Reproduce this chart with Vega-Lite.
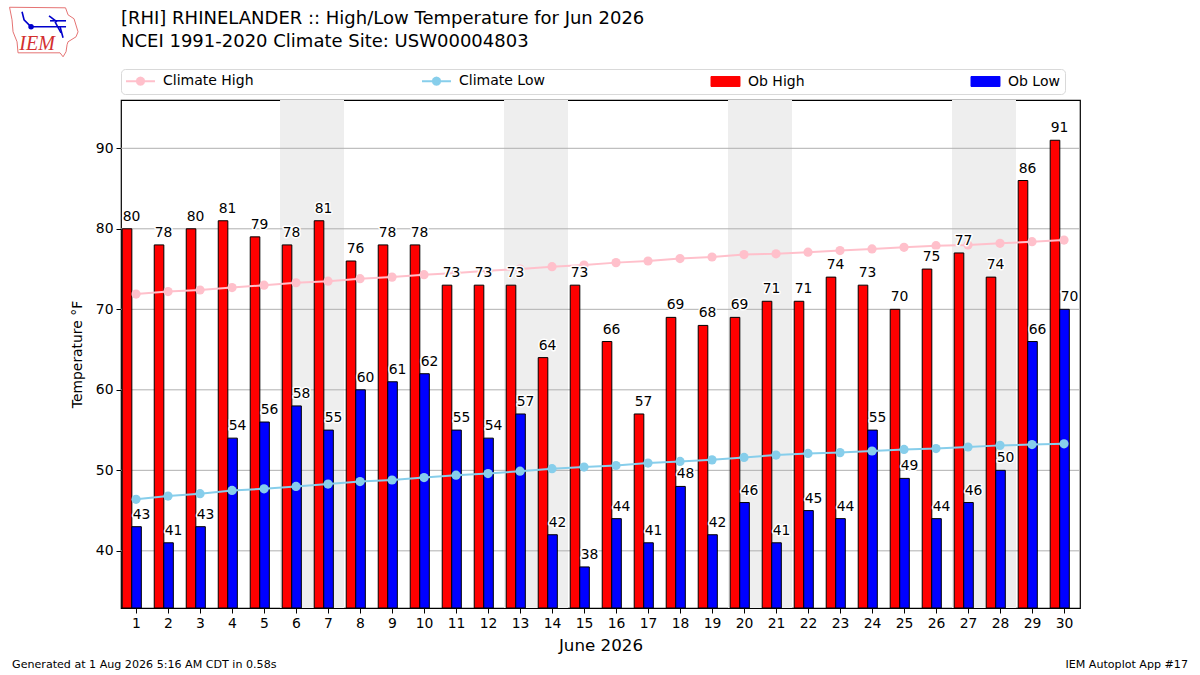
{"$schema":"https://vega.github.io/schema/vega-lite/v6.json","width":959,"height":508,"autosize":"none","padding":{"left":121,"top":100,"right":120,"bottom":67},"background":"white",
"title":{"text":["[RHI] RHINELANDER :: High/Low Temperature for Jun 2026","NCEI 1991-2020 Climate Site: USW00004803"],"anchor":"start","frame":"group","font":"DejaVu Sans","fontSize":18,"fontWeight":"normal","color":"black","lineHeight":23,"offset":-46},
"config":{"font":"DejaVu Sans","view":{"stroke":"black","strokeWidth":1.2},"axisX":{"labelOverlap":false}},
"datasets":{
"obs":[
{"day":1,"series":"Ob High","value":80},{"day":2,"series":"Ob High","value":78},{"day":3,"series":"Ob High","value":80},{"day":4,"series":"Ob High","value":81},{"day":5,"series":"Ob High","value":79},{"day":6,"series":"Ob High","value":78},{"day":7,"series":"Ob High","value":81},{"day":8,"series":"Ob High","value":76},{"day":9,"series":"Ob High","value":78},{"day":10,"series":"Ob High","value":78},{"day":11,"series":"Ob High","value":73},{"day":12,"series":"Ob High","value":73},{"day":13,"series":"Ob High","value":73},{"day":14,"series":"Ob High","value":64},{"day":15,"series":"Ob High","value":73},{"day":16,"series":"Ob High","value":66},{"day":17,"series":"Ob High","value":57},{"day":18,"series":"Ob High","value":69},{"day":19,"series":"Ob High","value":68},{"day":20,"series":"Ob High","value":69},{"day":21,"series":"Ob High","value":71},{"day":22,"series":"Ob High","value":71},{"day":23,"series":"Ob High","value":74},{"day":24,"series":"Ob High","value":73},{"day":25,"series":"Ob High","value":70},{"day":26,"series":"Ob High","value":75},{"day":27,"series":"Ob High","value":77},{"day":28,"series":"Ob High","value":74},{"day":29,"series":"Ob High","value":86},{"day":30,"series":"Ob High","value":91},
{"day":1,"series":"Ob Low","value":43},{"day":2,"series":"Ob Low","value":41},{"day":3,"series":"Ob Low","value":43},{"day":4,"series":"Ob Low","value":54},{"day":5,"series":"Ob Low","value":56},{"day":6,"series":"Ob Low","value":58},{"day":7,"series":"Ob Low","value":55},{"day":8,"series":"Ob Low","value":60},{"day":9,"series":"Ob Low","value":61},{"day":10,"series":"Ob Low","value":62},{"day":11,"series":"Ob Low","value":55},{"day":12,"series":"Ob Low","value":54},{"day":13,"series":"Ob Low","value":57},{"day":14,"series":"Ob Low","value":42},{"day":15,"series":"Ob Low","value":38},{"day":16,"series":"Ob Low","value":44},{"day":17,"series":"Ob Low","value":41},{"day":18,"series":"Ob Low","value":48},{"day":19,"series":"Ob Low","value":42},{"day":20,"series":"Ob Low","value":46},{"day":21,"series":"Ob Low","value":41},{"day":22,"series":"Ob Low","value":45},{"day":23,"series":"Ob Low","value":44},{"day":24,"series":"Ob Low","value":55},{"day":25,"series":"Ob Low","value":49},{"day":26,"series":"Ob Low","value":44},{"day":27,"series":"Ob Low","value":46},{"day":28,"series":"Ob Low","value":50},{"day":29,"series":"Ob Low","value":66},{"day":30,"series":"Ob Low","value":70}],
"climate":[
{"day":1,"series":"Climate High","value":71.9},{"day":2,"series":"Climate High","value":72.2},{"day":3,"series":"Climate High","value":72.4},{"day":4,"series":"Climate High","value":72.7},{"day":5,"series":"Climate High","value":73.0},{"day":6,"series":"Climate High","value":73.3},{"day":7,"series":"Climate High","value":73.5},{"day":8,"series":"Climate High","value":73.8},{"day":9,"series":"Climate High","value":74.0},{"day":10,"series":"Climate High","value":74.3},{"day":11,"series":"Climate High","value":74.5},{"day":12,"series":"Climate High","value":74.8},{"day":13,"series":"Climate High","value":75.0},{"day":14,"series":"Climate High","value":75.3},{"day":15,"series":"Climate High","value":75.5},{"day":16,"series":"Climate High","value":75.8},{"day":17,"series":"Climate High","value":76.0},{"day":18,"series":"Climate High","value":76.3},{"day":19,"series":"Climate High","value":76.5},{"day":20,"series":"Climate High","value":76.8},{"day":21,"series":"Climate High","value":76.9},{"day":22,"series":"Climate High","value":77.1},{"day":23,"series":"Climate High","value":77.3},{"day":24,"series":"Climate High","value":77.5},{"day":25,"series":"Climate High","value":77.7},{"day":26,"series":"Climate High","value":77.9},{"day":27,"series":"Climate High","value":78.0},{"day":28,"series":"Climate High","value":78.2},{"day":29,"series":"Climate High","value":78.4},{"day":30,"series":"Climate High","value":78.6},
{"day":1,"series":"Climate Low","value":46.4},{"day":2,"series":"Climate Low","value":46.8},{"day":3,"series":"Climate Low","value":47.1},{"day":4,"series":"Climate Low","value":47.5},{"day":5,"series":"Climate Low","value":47.7},{"day":6,"series":"Climate Low","value":48.0},{"day":7,"series":"Climate Low","value":48.3},{"day":8,"series":"Climate Low","value":48.6},{"day":9,"series":"Climate Low","value":48.8},{"day":10,"series":"Climate Low","value":49.1},{"day":11,"series":"Climate Low","value":49.4},{"day":12,"series":"Climate Low","value":49.6},{"day":13,"series":"Climate Low","value":49.9},{"day":14,"series":"Climate Low","value":50.2},{"day":15,"series":"Climate Low","value":50.4},{"day":16,"series":"Climate Low","value":50.6},{"day":17,"series":"Climate Low","value":50.9},{"day":18,"series":"Climate Low","value":51.1},{"day":19,"series":"Climate Low","value":51.3},{"day":20,"series":"Climate Low","value":51.6},{"day":21,"series":"Climate Low","value":51.9},{"day":22,"series":"Climate Low","value":52.1},{"day":23,"series":"Climate Low","value":52.2},{"day":24,"series":"Climate Low","value":52.4},{"day":25,"series":"Climate Low","value":52.6},{"day":26,"series":"Climate Low","value":52.7},{"day":27,"series":"Climate Low","value":52.9},{"day":28,"series":"Climate Low","value":53.1},{"day":29,"series":"Climate Low","value":53.2},{"day":30,"series":"Climate Low","value":53.3}],
"weekends":[{"start":5.5,"end":7.5},{"start":12.5,"end":14.5},{"start":19.5,"end":21.5},{"start":26.5,"end":28.5}],
"grid":[{"t":40},{"t":50},{"t":60},{"t":70},{"t":80},{"t":90}],
"logoOutline":[{"i":0,"x":-2.953,"y":107.52},{"i":1,"x":-1.203,"y":107.45},{"i":2,"x":-1.125,"y":106.58},{"i":3,"x":-0.9375,"y":106.09},{"i":4,"x":-0.8125,"y":104.47},{"i":5,"x":-0.875,"y":103.85},{"i":6,"x":-1.125,"y":103.23},{"i":7,"x":-1.156,"y":102.86},{"i":8,"x":-1.1875,"y":101.99},{"i":9,"x":-1.281,"y":101.37},{"i":10,"x":-1.375,"y":101.86},{"i":11,"x":-2.6875,"y":101.86},{"i":12,"x":-2.719,"y":103.23},{"i":13,"x":-2.844,"y":104.47},{"i":14,"x":-2.875,"y":105.96},{"i":15,"x":-2.953,"y":107.52}],
"logoBlue":[{"g":"a","i":0,"x":-2.281,"y":105.09},{"g":"a","i":1,"x":-1.1875,"y":105.09},{"g":"b","i":0,"x":-1.6875,"y":105.84},{"g":"b","i":1,"x":-1.1875,"y":105.84},{"g":"c","i":0,"x":-2.5625,"y":106.96},{"g":"c","i":1,"x":-2.5,"y":105.96},{"g":"c","i":2,"x":-2.281,"y":105.09},{"g":"d","i":0,"x":-1.719,"y":106.46},{"g":"d","i":1,"x":-1.469,"y":105.71},{"g":"e","i":0,"x":-1.531,"y":105.71},{"g":"e","i":1,"x":-1.344,"y":104.35},{"g":"f","i":0,"x":-1.375,"y":105.09},{"g":"f","i":1,"x":-1.281,"y":103.73}]
},
"layer":[
{"data":{"name":"weekends"},"mark":{"type":"rect","color":"#eeeeee"},"encoding":{"x":{"field":"start","type":"quantitative","scale":{"domain":[0.53,30.5],"nice":false,"zero":false,"padding":0},"axis":{"tickCount":30,"tickMinStep":1,"format":"d","labelFontSize":13.9,"labelColor":"black","tickColor":"black","tickSize":5,"domain":false,"grid":false,"labelOverlap":false,"labelFlush":false,"labelPadding":3,"title":"June 2026","titleFontSize":16.7,"titleFontWeight":"normal","titleColor":"black","titlePadding":8}},"x2":{"field":"end"}}},
{"data":{"name":"grid"},"mark":{"type":"rule","color":"#b0b0b0","strokeWidth":1},"encoding":{"y":{"field":"t","type":"quantitative"}}},
{"data":{"name":"obs"},"transform":[{"filter":"datum.series==='Ob High'"}],"mark":{"type":"bar","size":9.6,"xOffset":-9,"stroke":"black","strokeWidth":1,"clip":true},"encoding":{
"x":{"field":"day","type":"quantitative"},
"y":{"field":"value","type":"quantitative","stack":null,"scale":{"domain":[32.9,96],"nice":false,"zero":false,"padding":0},"axis":{"values":[40,50,60,70,80,90],"labelFontSize":13.9,"labelColor":"black","tickColor":"black","tickSize":5,"domain":false,"grid":false,"labelPadding":3,"title":"Temperature °F","titleFontSize":13.9,"titleFontWeight":"normal","titleColor":"black","titlePadding":11}},
"y2":{"datum":32.9},
"color":{"field":"series","type":"nominal","scale":{"domain":["Climate High","Climate Low","Ob High","Ob Low"],"range":["#ffc0cb","#87ceeb","#ff0000","#0000ff"]},"legend":{"title":null,"orient":"none","legendX":0,"legendY":-31,"columns":4,"columnPadding":164,"padding":5,"fillColor":"white","strokeColor":"#d9d9d9","cornerRadius":4,"symbolSize":196,"labelFontSize":14,"labelColor":"black","labelOffset":23,"labelFont":"DejaVu Sans",
"encoding":{"symbols":{
"shape":{"value":{"expr":"(datum.value==='Ob High'||datum.value==='Ob Low')?'M-1,-0.71L3.14,-0.71L3.14,0.71L-1,0.71Z':'M-1,0L0.55,0L0.62,-0.26L0.81,-0.45L1.07,-0.52L1.33,-0.45L1.52,-0.26L1.59,0L1.52,0.26L1.33,0.45L1.07,0.52L0.81,0.45L0.62,0.26L0.55,0ZM1.59,0L3.14,0'"}},
"fill":{"value":{"expr":"datum.value==='Ob High'?'#ff0000':datum.value==='Ob Low'?'#0000ff':datum.value==='Climate High'?'#ffc0cb':'#87ceeb'"}},
"stroke":{"value":{"expr":"(datum.value==='Ob High'||datum.value==='Ob Low')?'black':datum.value==='Climate High'?'#ffc0cb':'#87ceeb'"}},
"strokeWidth":{"value":{"expr":"(datum.value==='Ob High'||datum.value==='Ob Low')?1:2"}},
"opacity":{"value":1}}}}}}},
{"data":{"name":"obs"},"transform":[{"filter":"datum.series==='Ob Low'"}],"mark":{"type":"bar","size":9.6,"xOffset":0.5,"stroke":"black","strokeWidth":1,"clip":true},"encoding":{"x":{"field":"day","type":"quantitative"},"y":{"field":"value","type":"quantitative","stack":null},"y2":{"datum":32.9},"color":{"field":"series","type":"nominal"}}},
{"data":{"name":"climate"},"mark":{"type":"line","strokeWidth":2,"point":{"filled":true,"size":85,"opacity":1}},"encoding":{"x":{"field":"day","type":"quantitative"},"y":{"field":"value","type":"quantitative"},"color":{"field":"series","type":"nominal"}}},
{"data":{"name":"obs"},"transform":[{"filter":"datum.series==='Ob High'"}],"mark":{"type":"text","xOffset":-4.5,"baseline":"alphabetic","dy":-8,"fontSize":13.9,"stroke":"white","strokeWidth":3,"strokeJoin":"round"},"encoding":{"x":{"field":"day","type":"quantitative"},"y":{"field":"value","type":"quantitative"},"text":{"field":"value","type":"quantitative"}}},
{"data":{"name":"obs"},"transform":[{"filter":"datum.series==='Ob Low'"}],"mark":{"type":"text","xOffset":5.5,"baseline":"alphabetic","dy":-8,"fontSize":13.9,"stroke":"white","strokeWidth":3,"strokeJoin":"round"},"encoding":{"x":{"field":"day","type":"quantitative"},"y":{"field":"value","type":"quantitative"},"text":{"field":"value","type":"quantitative"}}},
{"data":{"name":"obs"},"transform":[{"filter":"datum.series==='Ob High'"}],"mark":{"type":"text","xOffset":-4.5,"baseline":"alphabetic","dy":-8,"fontSize":13.9,"color":"black"},"encoding":{"x":{"field":"day","type":"quantitative"},"y":{"field":"value","type":"quantitative"},"text":{"field":"value","type":"quantitative"}}},
{"data":{"name":"obs"},"transform":[{"filter":"datum.series==='Ob Low'"}],"mark":{"type":"text","xOffset":5.5,"baseline":"alphabetic","dy":-8,"fontSize":13.9,"color":"black"},"encoding":{"x":{"field":"day","type":"quantitative"},"y":{"field":"value","type":"quantitative"},"text":{"field":"value","type":"quantitative"}}},
{"data":{"values":[{"note":"Generated at 1 Aug 2026 5:16 AM CDT in 0.58s","x":-2.875,"y":25.84}]},"mark":{"type":"text","fontSize":11.1,"color":"black","baseline":"middle","align":"left"},"encoding":{"x":{"field":"x","type":"quantitative"},"y":{"field":"y","type":"quantitative"},"text":{"field":"note"}}},
{"data":{"values":[{"note":"IEM Autoplot App #17","x":33.875,"y":25.84}]},"mark":{"type":"text","fontSize":11.1,"color":"black","baseline":"middle","align":"right"},"encoding":{"x":{"field":"x","type":"quantitative"},"y":{"field":"y","type":"quantitative"},"text":{"field":"note"}}},
{"data":{"name":"logoOutline"},"mark":{"type":"line","color":"#e57373","strokeWidth":1,"clip":false},"encoding":{"x":{"field":"x","type":"quantitative"},"y":{"field":"y","type":"quantitative"},"order":{"field":"i"}}},
{"data":{"name":"logoBlue"},"mark":{"type":"line","color":"#0000cc","strokeWidth":1.6},"encoding":{"x":{"field":"x","type":"quantitative"},"y":{"field":"y","type":"quantitative"},"detail":{"field":"g"},"order":{"field":"i"}}},
{"data":{"values":[{"x":-2.281,"y":105.09}]},"mark":{"type":"point","filled":true,"color":"#0000cc","size":30,"opacity":1},"encoding":{"x":{"field":"x","type":"quantitative"},"y":{"field":"y","type":"quantitative"}}},
{"data":{"values":[{"label":"IEM","x":-2.094,"y":102.98}]},"mark":{"type":"text","font":"Liberation Serif","fontStyle":"italic","fontSize":20,"color":"#d32f2f","baseline":"middle"},"encoding":{"x":{"field":"x","type":"quantitative"},"y":{"field":"y","type":"quantitative"},"text":{"field":"label"}}}
]}
